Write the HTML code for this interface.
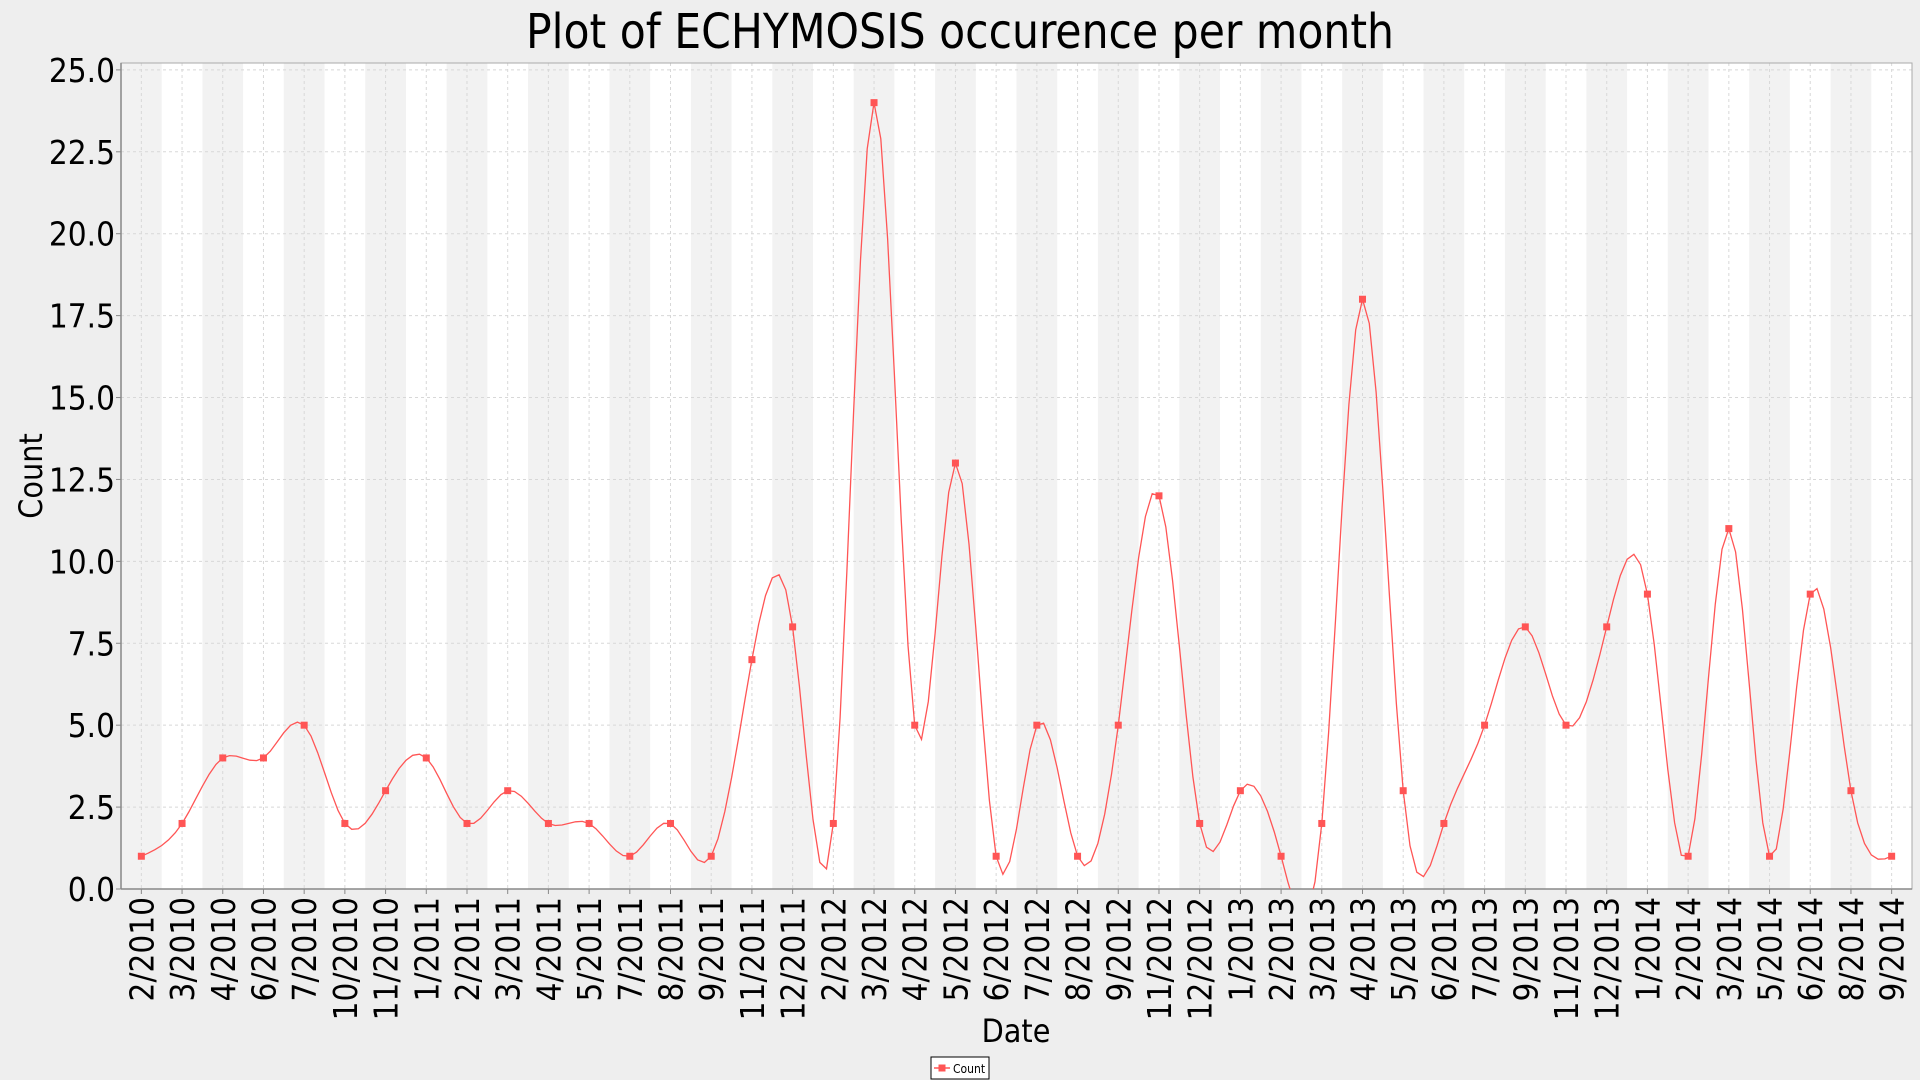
<!DOCTYPE html>
<html><head><meta charset="utf-8"><style>
html,body{margin:0;padding:0;background:#eeeeee;}
svg{display:block;font-family:"DejaVu Sans Condensed","DejaVu Sans","Liberation Sans",sans-serif;font-stretch:condensed;}
</style></head><body>
<svg id="chart" width="1920" height="1080" xmlns="http://www.w3.org/2000/svg">
<rect x="0" y="0" width="1920" height="1080" fill="#eeeeee"/>
<text x="960" y="48" font-size="48" text-anchor="middle" textLength="868" lengthAdjust="spacingAndGlyphs" fill="#000">Plot of ECHYMOSIS occurence per month</text>
<g id="plot"></g>
<text transform="translate(42,476) rotate(-90)" font-size="32" text-anchor="middle" fill="#000">Count</text>
<text x="1016" y="1042" font-size="32" text-anchor="middle" fill="#000">Date</text>
<g>
<rect x="931" y="1057" width="58" height="22" fill="#fff" stroke="#000" stroke-width="1"/>
<line x1="934" y1="1068" x2="950" y2="1068" stroke="#f55" stroke-width="1.5"/>
<rect x="938.5" y="1064.5" width="7" height="7" fill="#f55"/>
<text x="953" y="1073" font-size="12" fill="#000">Count</text>
</g>
</svg>
<script>
const categories = ["2/2010","3/2010","4/2010","6/2010","7/2010","10/2010","11/2010","1/2011","2/2011","3/2011","4/2011","5/2011","7/2011","8/2011","9/2011","11/2011","12/2011","2/2012","3/2012","4/2012","5/2012","6/2012","7/2012","8/2012","9/2012","11/2012","12/2012","1/2013","2/2013","3/2013","4/2013","5/2013","6/2013","7/2013","9/2013","11/2013","12/2013","1/2014","2/2014","3/2014","5/2014","6/2014","8/2014","9/2014"];
const counts = [1,2,4,4,5,2,3,4,2,3,2,2,1,2,1,7,8,2,24,5,13,1,5,1,5,12,2,3,1,2,18,3,2,5,8,5,8,9,1,11,1,9,3,1];
const yTicks = [0,2.5,5,7.5,10,12.5,15,17.5,20,22.5,25];
const yTickLabels = ["0.0","2.5","5.0","7.5","10.0","12.5","15.0","17.5","20.0","22.5","25.0"];

const NS="http://www.w3.org/2000/svg";
const L=121,R=1912,T=63,B=889,YMAX=25.21;
const bw=(R-L)/categories.length;
const xs=i=>L+(i+0.5)*bw;
const ys=v=>B-(v/YMAX)*(B-T);
const g=document.getElementById('plot');
function mk(tag,attrs,parent){const e=document.createElementNS(NS,tag);for(const k in attrs)e.setAttribute(k,attrs[k]);(parent||g).appendChild(e);return e;}

mk('rect',{x:L,y:T,width:R-L,height:B-T,fill:'#fff'});
categories.forEach((c,i)=>{
  if(i%2===0){const b=mk('rect',{x:L+i*bw,y:T,width:bw,height:B-T,fill:'#f2f2f2'});
  
  }
});
yTicks.forEach((t,i)=>{
  const y=ys(t);
  const gl=mk('line',{x1:L,x2:R,y1:y,y2:y,stroke:'#d8d8d8','stroke-dasharray':'3,3','stroke-width':1});
  
  
  mk('line',{x1:L-5,x2:L,y1:y,y2:y,stroke:'#888'});
  const tx=mk('text',{x:L-6,y:y+12,'font-size':33,'text-anchor':'end',fill:'#000'});
  tx.textContent=yTickLabels[i];
  
  
});
categories.forEach((c,i)=>{
  const x=xs(i);
  const gl=mk('line',{x1:x,x2:x,y1:T,y2:B,stroke:'#d8d8d8','stroke-dasharray':'3,3','stroke-width':1});
  
  
  mk('line',{x1:x,x2:x,y1:B,y2:B+5,stroke:'#888'});
  const tx=mk('text',{transform:`translate(${x+12},${B+8}) rotate(-90)`,'font-size':33,'text-anchor':'end',fill:'#000'});
  tx.textContent=c;
  
  
});
mk('rect',{x:L,y:T,width:R-L,height:B-T,fill:'none',stroke:'#aaa'});
mk('line',{x1:L,x2:L,y1:T,y2:B,stroke:'#888','stroke-width':1.5});
mk('line',{x1:L,x2:R,y1:B,y2:B,stroke:'#888','stroke-width':1.5});

const n=counts.length;
const a=counts.slice();
const cc=new Array(n).fill(0);
{const al=new Array(n).fill(0),l=new Array(n).fill(1),mu=new Array(n).fill(0),z=new Array(n).fill(0);
for(let i=1;i<n-1;i++)al[i]=3*(a[i+1]-2*a[i]+a[i-1]);
for(let i=1;i<n-1;i++){l[i]=4-mu[i-1];mu[i]=1/l[i];z[i]=(al[i]-z[i-1])/l[i];}
for(let j=n-2;j>=0;j--){cc[j]=z[j]-mu[j]*cc[j+1];}}
let d='';
for(let i=0;i<n-1;i++){
  const b=(a[i+1]-a[i])-(cc[i+1]+2*cc[i])/3, dd=(cc[i+1]-cc[i])/3;
  for(let s=0;s<=6;s++){const t=s/6;const v=a[i]+b*t+cc[i]*t*t+dd*t*t*t;
    d+=(i===0&&s===0?'M':'L')+xs(i+t).toFixed(1)+','+ys(v).toFixed(1);}
}
mk('clipPath',{id:'clip'});
mk('rect',{x:L,y:T,width:R-L,height:B-T},document.getElementById('clip'));
const line=mk('path',{d:d,fill:'none',stroke:'#f55','stroke-width':1.3,'clip-path':'url(#clip)'});


counts.forEach((v,i)=>{
  const p=mk('rect',{x:xs(i)-3.5,y:ys(v)-3.5,width:7,height:7,fill:'#f55'});
  
  
});
</script>
</body></html>
